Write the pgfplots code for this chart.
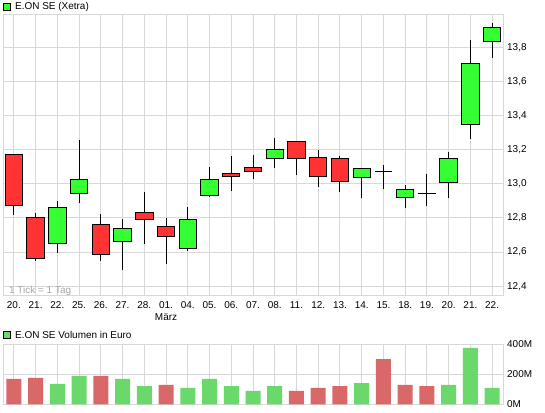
\documentclass[border=0pt]{standalone}
\usepackage{pgfplots}
\usepackage{pgfplotstable}
\pgfplotsset{compat=1.18}
\usepackage{fontspec}
\setmainfont{Liberation Sans}
\definecolor{cred}{RGB}{255,51,51}
\definecolor{cgreen}{RGB}{51,255,51}
\definecolor{vred}{RGB}{217,104,104}
\definecolor{vgreen}{RGB}{106,216,106}
\definecolor{gridc}{RGB}{216,216,216}
\pgfplotstableread{
x o h l c
0 13.169 13.177 12.820 12.876
1 12.800 12.830 12.547 12.564
2 12.649 12.900 12.596 12.859
3 12.941 13.256 12.886 13.023
4 12.761 12.825 12.547 12.587
5 12.660 12.794 12.497 12.738
6 12.835 12.955 12.647 12.789
7 12.750 12.800 12.531 12.694
8 12.620 12.866 12.604 12.794
9 12.929 13.100 12.920 13.023
10 13.058 13.164 12.957 13.041
11 13.093 13.170 13.027 13.070
12 13.151 13.270 13.091 13.204
13 13.246 13.253 13.050 13.151
14 13.157 13.200 12.980 13.041
15 13.151 13.163 12.951 13.012
16 13.035 13.087 12.916 13.087
17 13.070 13.113 12.969 13.070
18 12.918 12.996 12.857 12.965
19 12.941 13.060 12.869 12.941
20 13.006 13.188 12.916 13.151
21 13.347 13.844 13.262 13.703
22 13.836 13.941 13.737 13.915
}\candles
\begin{document}
\fontsize{10}{12}\selectfont
\begin{tikzpicture}
\path[use as bounding box] (0,0) rectangle (545bp,413bp);
\begin{axis}[at={(3bp,117bp)}, anchor=south west, scale only axis,
  width=500bp, height=281bp,
  xmin=-0.5, xmax=22.5, ymin=12.343, ymax=13.989,
  axis line style={gridc, line width=1bp},
  grid=major, major grid style={gridc, line width=1bp},
  major tick length=0pt,
  xtick={0,...,22},
  xticklabels={20.,21.,22.,25.,26.,27.,28.,{01.\\März},04.,05.,06.,07.,08.,11.,12.,13.,14.,15.,18.,19.,20.,21.,22.},
  xticklabel style={align=center, inner sep=0pt, yshift=-5.5bp, font=\fontsize{10}{11.5}\selectfont},
  ytick={12.4,12.6,12.8,13.0,13.2,13.4,13.6,13.8},
  yticklabel pos=right,
  yticklabel style={inner sep=0pt, xshift=4bp, font=\fontsize{10}{12}\selectfont,
    /pgf/number format/.cd, fixed, fixed zerofill, precision=1, use comma, assume math mode=true},
]
% wicks (high-low)
\addplot[draw=none, mark=none,
  error bars/.cd, y dir=both, y explicit, error mark=none,
  error bar style={draw=black, line width=1bp}]
  table[x=x, y=o, y error plus expr={\thisrow{h}-\thisrow{o}},
        y error minus expr={\thisrow{o}-\thisrow{l}}] {\candles};
% doji: open = close, drawn as a horizontal stroke
\addplot[draw=none, mark=none,
  error bars/.cd, x dir=both, x explicit, error mark=none,
  error bar style={draw=black, line width=1bp}]
  table[x=x, y=c, x error expr={\thisrow{o}==\thisrow{c} ? 0.4 : 0}] {\candles};
\end{axis}
\begin{axis}[at={(3bp,117bp)}, anchor=south west, scale only axis,
  width=500bp, height=281bp,
  xmin=-0.5, xmax=22.5, ymin=12.343, ymax=13.989,
  hide axis, ybar stacked, bar width=0.8]
\addplot[draw=none, fill=none] table[x=x, y expr={min(\thisrow{o},\thisrow{c})}] {\candles};
\addplot[draw=black, line width=1bp, fill=cred]
  table[x=x, y expr={\thisrow{o}>\thisrow{c} ? \thisrow{o}-\thisrow{c} : 0}] {\candles};
\addplot[draw=black, line width=1bp, fill=cgreen]
  table[x=x, y expr={\thisrow{c}>\thisrow{o} ? \thisrow{c}-\thisrow{o} : 0}] {\candles};
\end{axis}
\begin{axis}[at={(3bp,8.7bp)}, anchor=south west, scale only axis,
  width=500bp, height=60bp,
  xmin=-0.5, xmax=22.5, ymin=0, ymax=400,
  axis line style={gridc, line width=1bp},
  grid=major, major grid style={gridc, line width=1bp},
  major tick length=0pt,
  xtick={0,...,22}, xticklabels={},
  ytick={0,200,400}, yticklabels={0M,200M,400M},
  yticklabel pos=right,
  yticklabel style={inner sep=0pt, xshift=4bp, font=\fontsize{10}{12}\selectfont},
]
\addplot[ybar, bar width=15bp, bar shift=0pt, fill=vred, draw=none] coordinates {
(0,169) (1,176) (4,189) (7,129) (13,89) (14,109) (15,122) (17,302) (18,129) (19,122)};
\addplot[ybar, bar width=15bp, bar shift=0pt, fill=vgreen, draw=none] coordinates {
(2,136) (3,189) (5,169) (6,122) (8,109) (9,169) (10,122) (11,89) (12,122) (16,142) (20,129) (21,376) (22,109)};
\end{axis}
\node[draw=black, fill=cgreen, minimum size=7bp, inner sep=0pt, line width=0.8bp] at (6.5bp,406.5bp) {};
\node[anchor=base west, inner sep=0pt] at (15bp,403bp) {E.ON SE (Xetra)};
\node[draw=black, fill=vgreen, minimum size=7bp, inner sep=0pt, line width=0.8bp] at (6.5bp,78bp) {};
\node[anchor=base west, inner sep=0pt] at (15bp,74.5bp) {E.ON SE Volumen in Euro};
\node[anchor=base west, inner sep=0pt, text=black!35] at (9bp,119bp) {1 Tick = 1 Tag};
\end{tikzpicture}
\end{document}
